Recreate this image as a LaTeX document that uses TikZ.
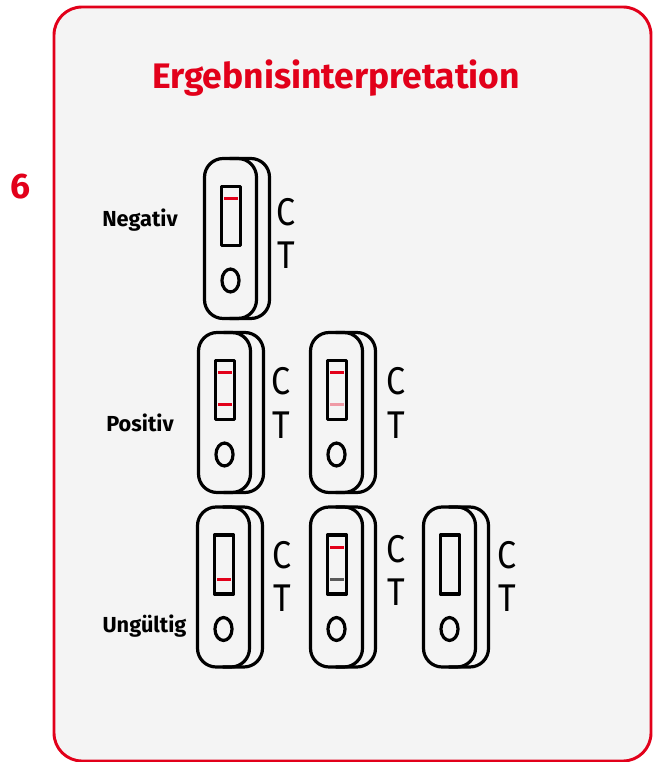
\documentclass[tikz,border=0pt]{standalone}
\usepackage{xcolor}
\usepackage{fontspec}
\setmainfont{Fira Sans}
\definecolor{testred}{HTML}{E2001A}
\definecolor{panelgray}{HTML}{F4F4F4}
\definecolor{faintred}{HTML}{EF9AA5}
\definecolor{faintgray}{HTML}{5A5A5A}
\tikzset{
    titletext/.style={text=testred, font=\fontsize{26.6}{30}\selectfont\bfseries},
    rowlabel/.style={font=\fontsize{16.3}{18}\selectfont\bfseries},
    lettertext/.style={font=\fontsize{29}{32}\selectfont\addfontfeature{FakeStretch=0.88}},
    body/.style={line width=2.4pt, line join=round},
}
% x y control-line test-line
\newcommand{\cassette}[4]{
    \begin{scope}[shift={(#1,#2)}]
        \draw[body, rounded corners=14pt] (25,0) -- (65,0) -- (65,160) -- (25,160);
        \draw[body, rounded corners=14pt] (0,0) rectangle (52,160);
        \draw[body] (17,28) rectangle (36,87);
        \draw[body] (26,122) ellipse (6.4pt and 8.6pt);
        \path[fill=#3] (19.5,38.5) rectangle (33.5,41.5);
        \path[fill=#4] (19.5,70.5) rectangle (33.5,73.5);
    \end{scope}
}
\begin{document}
\begin{tikzpicture}[x=0.75pt, y=-0.75pt]
    \useasboundingbox (0,0) rectangle (653,762);
    \draw[line width=2.2pt, draw=testred, fill=panelgray, rounded corners=21pt] (54,7) rectangle (651,761); % Panel
    \node[titletext] (title) at (336,78) {Ergebnisinterpretation};
    \node[titletext] (stepnum) at (21,187) {6};

    % Row labels
    \node[rowlabel] (negativ) at (140,220) {Negativ};
    \node[rowlabel] (positiv) at (140,423) {Positiv};
    \node[rowlabel] (ungueltig) at (144.5,626) {Ungültig};

    % Cassettes
    \cassette{204.5}{158.5}{testred}{none}
    \cassette{198.5}{332.5}{testred}{testred}
    \cassette{310.5}{332.5}{testred}{faintred}
    \cassette{197.5}{507}{none}{testred}
    \cassette{310.5}{507}{testred}{faintgray}
    \cassette{423.5}{507}{none}{none}

    % Letters
    \node[lettertext] (c1) at (286,212) {C};
    \node[lettertext] (t1) at (286,255) {T};
    \node[lettertext] (c2) at (281,381) {C};
    \node[lettertext] (t2) at (281,425) {T};
    \node[lettertext] (c3) at (396,381) {C};
    \node[lettertext] (t3) at (396,425) {T};
    \node[lettertext] (c4) at (282,555) {C};
    \node[lettertext] (t4) at (282,598) {T};
    \node[lettertext] (c5) at (396,549) {C};
    \node[lettertext] (t5) at (396,592) {T};
    \node[lettertext] (c6) at (507,555) {C};
    \node[lettertext] (t6) at (507,598) {T};
\end{tikzpicture}
\end{document}
